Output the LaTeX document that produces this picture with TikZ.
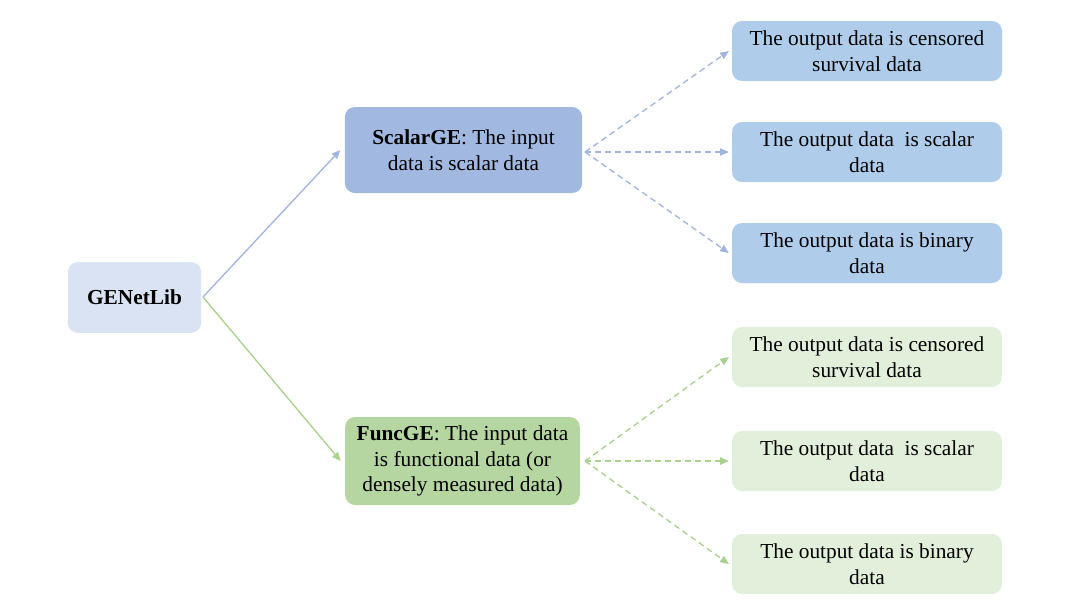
\documentclass[tikz,border=0pt]{standalone}
\usepackage{fontspec}
\setmainfont{Liberation Serif}
\usetikzlibrary{arrows.meta}

\definecolor{libfill}{RGB}{218,227,243}
\definecolor{scalarfill}{RGB}{161,184,225}
\definecolor{bluebox}{RGB}{175,205,234}
\definecolor{bluearrow}{RGB}{160,182,224}
\definecolor{funcfill}{RGB}{181,214,160}
\definecolor{greenbox}{RGB}{226,239,218}
\definecolor{greenarrow}{RGB}{169,209,142}

\tikzset{every picture/.style={line width=0.75pt}}
\tikzset{
  box/.style={rectangle, rounded corners=7.5pt, draw=none, inner sep=0pt, align=center, font=\fontsize{16}{19.2}\selectfont},
  outbox/.style={box, minimum width=202.5pt, minimum height=45pt},
  link/.style={line width=1pt, -{Triangle[length=6.5pt,width=5.5pt]}},
  dlink/.style={link, dash pattern={on 4.5pt off 3pt}}
}

\begin{document}
\begin{tikzpicture}[x=0.75pt,y=0.75pt,yscale=-1,xscale=1]
\useasboundingbox (0,0) rectangle (1065,612);

%Root
\node (lib) [box, fill=libfill, minimum width=100pt, minimum height=53pt] at (134.5,297.5) {\textbf{GENetLib}};

%Input types
\node (scalar) [box, fill=scalarfill, minimum width=178pt, minimum height=64.5pt] at (463.5,150) {\textbf{ScalarGE}: The input\\data is scalar data};
\node (func) [box, fill=funcfill, minimum width=176pt, minimum height=66pt] at (462.5,461) {\textbf{FuncGE}: The input data\\is functional data (or\\densely measured data)};

%Output types, scalar branch
\node (sc1) [outbox, fill=bluebox] at (867,51) {The output data is censored\\survival data};
\node (sc2) [outbox, fill=bluebox] at (867,152) {The output data ~is scalar\\data};
\node (sc3) [outbox, fill=bluebox] at (867,253) {The output data is binary\\data};

%Output types, functional branch
\node (fn1) [outbox, fill=greenbox] at (867,357) {The output data is censored\\survival data};
\node (fn2) [outbox, fill=greenbox] at (867,461) {The output data ~is scalar\\data};
\node (fn3) [outbox, fill=greenbox] at (867,564) {The output data is binary\\data};

%Connectors
\coordinate (libout) at (203,297);
\draw [link, color=bluearrow] (libout) -- ([xshift=-3pt]scalar.west);
\draw [link, color=greenarrow] (libout) -- ([xshift=-3pt]func.west);

\coordinate (scout) at (585,152);
\foreach \t in {sc1,sc2,sc3}
  \draw [dlink, color=bluearrow] (scout) -- ([xshift=-2pt]\t.west);

\coordinate (fnout) at (585,461);
\foreach \t in {fn1,fn2,fn3}
  \draw [dlink, color=greenarrow] (fnout) -- ([xshift=-2pt]\t.west);

\end{tikzpicture}
\end{document}
